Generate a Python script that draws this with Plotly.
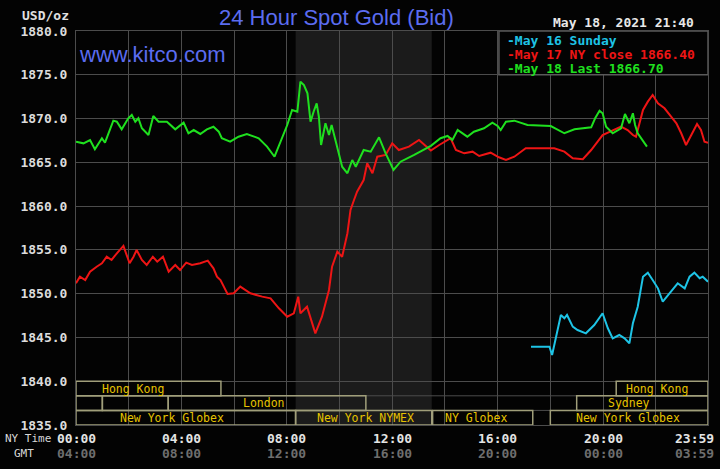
import plotly.graph_objects as go

# ---- data (minutes after 00:00 NY time, price USD/oz) ----
may18_t = [0, 17, 32, 43, 59, 66, 85, 93, 104, 119, 127, 135, 142, 150, 165, 176, 188, 207, 226, 245,
           256, 268, 283, 298, 313, 325, 332, 351, 370, 389, 416, 435, 452, 465, 481, 492, 504, 511,
           519, 527, 534, 541, 548, 553, 558, 568, 576, 582, 591, 606, 618, 629, 637, 655, 671, 690,
           705, 723, 739, 770, 808, 830, 846, 857, 869, 891, 906, 929, 948, 960, 967, 979, 998, 1028,
           1081, 1112, 1135, 1173, 1182, 1192, 1199, 1207, 1222, 1241, 1250, 1260, 1268, 1273, 1279,
           1291, 1300]
may18_v = [1867.36, 1867.17, 1867.55, 1866.49, 1867.75, 1867.24, 1869.76, 1869.64, 1868.77, 1870.03,
           1870.41, 1869.64, 1870.03, 1868.89, 1868.12, 1870.29, 1869.64, 1869.64, 1868.77, 1869.53,
           1868.32, 1868.69, 1868.24, 1868.77, 1869.07, 1868.50, 1867.75, 1867.36, 1867.93, 1868.24,
           1867.75, 1866.79, 1865.64, 1867.36, 1869.26, 1870.98, 1870.78, 1874.21, 1873.83, 1872.88,
           1869.64, 1870.78, 1871.74, 1870.21, 1866.98, 1869.46, 1868.12, 1869.26, 1867.55, 1864.50,
           1863.75, 1865.27, 1864.50, 1866.41, 1866.22, 1867.86, 1866.03, 1864.13, 1865.07, 1865.84,
           1866.89, 1867.75, 1868.01, 1867.55, 1868.69, 1867.93, 1868.50, 1868.89, 1869.53, 1869.15,
           1868.69, 1869.64, 1869.76, 1869.26, 1869.15, 1868.32, 1868.77, 1869.00, 1870.03, 1870.90,
           1870.60, 1869.07, 1868.32, 1868.89, 1870.52, 1869.46, 1870.60, 1869.26, 1868.32, 1867.36,
           1866.79]

may17_t = [0, 9, 21, 32, 47, 59, 70, 81, 93, 108, 122, 131, 138, 150, 161, 175, 185, 198, 211, 226,
           237, 251, 264, 283, 300, 313, 321, 329, 345, 359, 374, 397, 424, 443, 462, 481, 496, 506,
           511, 526, 545, 560, 576, 583, 595, 606, 618, 625, 633, 640, 655, 663, 675, 686, 705, 720,
           735, 758, 781, 808, 827, 840, 853, 865, 884, 903, 918, 944, 963, 979, 998, 1024, 1089,
           1112, 1131, 1154, 1173, 1199, 1222, 1241, 1256, 1268, 1275, 1291, 1302, 1313, 1325, 1340,
           1355, 1367, 1378, 1389, 1401, 1414, 1423, 1431, 1439]
may17_v = [1851.19, 1851.94, 1851.56, 1852.51, 1853.08, 1853.47, 1854.22, 1853.85, 1854.61, 1855.45,
           1853.47, 1854.22, 1854.99, 1853.85, 1853.28, 1854.22, 1853.65, 1854.22, 1852.51, 1853.28,
           1852.70, 1853.54, 1853.28, 1853.47, 1853.77, 1852.90, 1851.94, 1851.56, 1849.96, 1850.04,
           1850.80, 1850.04, 1849.66, 1849.47, 1848.33, 1847.37, 1847.76, 1849.66, 1847.76, 1848.51,
           1845.47, 1847.37, 1850.42, 1853.08, 1854.79, 1854.22, 1856.90, 1859.56, 1860.70, 1861.65,
           1862.98, 1864.89, 1863.75, 1865.64, 1865.84, 1867.17, 1866.41, 1866.79, 1867.55, 1866.35,
           1866.98, 1867.36, 1867.75, 1866.41, 1866.03, 1866.22, 1865.72, 1866.10, 1865.58, 1865.27,
           1865.64, 1866.60, 1866.60, 1866.22, 1865.46, 1865.35, 1866.41, 1868.12, 1868.69, 1869.07,
           1868.69, 1868.12, 1867.93, 1870.98, 1871.93, 1872.69, 1871.74, 1871.17, 1870.21, 1869.46,
           1868.32, 1866.98, 1868.12, 1869.38, 1868.69, 1867.36, 1867.24]

may16_t = [1036, 1078, 1084, 1093, 1104, 1112, 1118, 1131, 1142, 1161, 1180, 1199, 1211, 1222, 1237,
           1249, 1260, 1268, 1279, 1291, 1302, 1313, 1325, 1336, 1351, 1370, 1386, 1397, 1408, 1420,
           1427, 1439]
may16_v = [1843.95, 1843.95, 1843.00, 1845.09, 1847.57, 1847.19, 1847.57, 1846.23, 1845.85, 1845.47,
           1846.42, 1847.76, 1846.05, 1844.90, 1845.28, 1844.90, 1844.33, 1846.62, 1848.51, 1851.94,
           1852.40, 1851.56, 1850.61, 1849.08, 1850.04, 1851.19, 1850.61, 1851.94, 1852.40, 1851.76,
           1851.94, 1851.37]

y_ticks = [1835, 1840, 1845, 1850, 1855, 1860, 1865, 1870, 1875, 1880]
x_tick_pos = [0, 240, 480, 720, 960, 1200, 1439]
ny_labels = ["00:00", "04:00", "08:00", "12:00", "16:00", "20:00", "23:59"]
gmt_labels = ["04:00", "08:00", "12:00", "16:00", "20:00", "00:00", "03:59"]

legend_labels = ["-May 16 Sunday", "-May 17 NY close 1866.40", "-May 18 Last 1866.70"]

# market sessions: (row, start_min, end_min, label, label_x, anchor)
sessions = [
    (1, 0, 330, "Hong Kong", 55, "left"),
    (1, 1230, 1439, "Hong Kong", 1323, "center"),
    (2, 0, 60, "", 0, "left"),
    (2, 60, 210, "", 0, "left"),
    (2, 210, 660, "London", 429, "center"),
    (2, 1140, 1439, "Sydney", 1259, "center"),
    (3, 0, 500, "New York Globex", 219, "center"),
    (3, 500, 810, "New York NYMEX", 545, "left"),
    (3, 812, 1040, "NY Globex", 910, "center"),
    (3, 1080, 1439, "New York Globex", 1257, "center"),
]

GREEN = "#1fe01f"
RED = "#ee1515"
CYAN = "#1ec4e6"
BLUE = "#5b6cf0"
GRID = "#4c4c4c"
BOX = "#a09e7a"
MONO = "DejaVu Sans Mono"

fig = go.Figure()
fig.add_trace(go.Scatter(x=may17_t, y=may17_v, mode="lines", line=dict(color=RED, width=2)))
fig.add_trace(go.Scatter(x=may16_t, y=may16_v, mode="lines", line=dict(color=CYAN, width=2)))
fig.add_trace(go.Scatter(x=may18_t, y=may18_v, mode="lines", line=dict(color=GREEN, width=2)))

W, H = 720, 469
ML, MR, MT, MB = 76, 12, 31, 44
PW, PH = W - ML - MR, H - MT - MB


def px_to_paper(px, py):
    return (px - ML) / PW, 1 - (py - MT) / PH


shapes = []
# NYMEX shading
shapes.append(dict(type="rect", xref="x", yref="y", x0=500, x1=810, y0=1835, y1=1880,
                   fillcolor="#1b1b1b", line=dict(width=0), layer="below"))
# session row separators
row_h = 5 / 3.0
for k in (1, 2):
    yy = 1840 - k * row_h
    shapes.append(dict(type="line", xref="x", yref="y", x0=0, x1=1439, y0=yy, y1=yy,
                       line=dict(color=GRID, width=1), layer="between"))
annotations = []
for row, s, e, lab, lx, anc in sessions:
    ytop = 1840 - (row - 1) * row_h
    ybot = ytop - row_h
    shapes.append(dict(type="rect", xref="x", yref="y", x0=s, x1=e, y0=ybot, y1=ytop,
                       line=dict(color=BOX, width=1.5), fillcolor="rgba(0,0,0,0)", layer="above"))
    if lab:
        annotations.append(dict(x=lx, y=(ytop + ybot) / 2, xref="x", yref="y", text=lab,
                                showarrow=False, xanchor=anc, yanchor="middle",
                                font=dict(family=MONO, size=11.5, color="#e6c200")))

# legend box
shapes.append(dict(type="rect", xref="x", yref="y", x0=963, x1=1439, y0=1875, y1=1880,
                   fillcolor="#030303", line=dict(color="#5a5a5a", width=1.5), layer="between"))
leg_colors = [CYAN, RED, GREEN]
for i, (lab, c) in enumerate(zip(legend_labels, leg_colors)):
    lx, ly = px_to_paper(505, 40 + i * 14)
    annotations.append(dict(x=lx, y=ly, xref="paper", yref="paper", text=lab,
                            showarrow=False, xanchor="left", yanchor="middle",
                            font=dict(family=MONO, size=13, color=c, weight="bold")))

# x tick labels (NY time and GMT)
for pos, ny, gmt in zip(x_tick_pos, ny_labels, gmt_labels):
    shift = -14 if pos == 1439 else 0
    annotations.append(dict(x=pos, y=0, xref="x", yref="paper", text=ny, showarrow=False,
                            xanchor="center", yanchor="middle", yshift=-13, xshift=shift,
                            font=dict(family=MONO, size=13, color="#e4e4e4", weight="bold")))
    annotations.append(dict(x=pos, y=0, xref="x", yref="paper", text=gmt, showarrow=False,
                            xanchor="center", yanchor="middle", yshift=-28, xshift=shift,
                            font=dict(family=MONO, size=13, color="#6e6e6e", weight="bold")))


def pix_annot(text, px, py, anchor, size, color, family=MONO, weight="normal"):
    x, y = px_to_paper(px, py)
    annotations.append(dict(x=x, y=y, xref="paper", yref="paper", text=text, showarrow=False,
                            xanchor=anchor, yanchor="middle",
                            font=dict(family=family, size=size, color=color, weight=weight)))


pix_annot("NY Time", 3, 438, "left", 11, "#d8d8d8")
pix_annot("GMT", 12, 453, "left", 11, "#d8d8d8")
pix_annot("USD/oz", 71, 15, "right", 13, "#e0e0e0", weight="bold")
pix_annot("24 Hour Spot Gold (Bid)", 336, 17, "center", 22, BLUE, family="Liberation Sans")
pix_annot("www.kitco.com", 77, 55, "left", 22, BLUE, family="Liberation Sans")
pix_annot("May 18, 2021 21:40", 696, 23, "right", 13, "#e8e8e8", weight="bold")

fig.update_layout(
    width=W, height=H,
    margin=dict(l=ML, r=MR, t=MT, b=MB),
    paper_bgcolor="#030303", plot_bgcolor="#030303",
    showlegend=False,
    shapes=shapes, annotations=annotations,
    xaxis=dict(range=[0, 1439], tickmode="linear", tick0=0, dtick=120, showticklabels=False,
               showgrid=True, gridcolor=GRID, gridwidth=1, zeroline=False,
               showline=True, linecolor=GRID, mirror=True, ticks=""),
    yaxis=dict(range=[1835, 1880], tickmode="array", tickvals=y_ticks,
               ticktext=[f"{v:.1f}" for v in y_ticks], showgrid=True, gridcolor=GRID, gridwidth=1,
               zeroline=False, showline=True, linecolor=GRID, mirror=True, ticks="",
               ticklabelstandoff=5,
               tickfont=dict(family=MONO, size=13, color="#dcdcdc", weight="bold")),
)

fig.write_html("out.html")
